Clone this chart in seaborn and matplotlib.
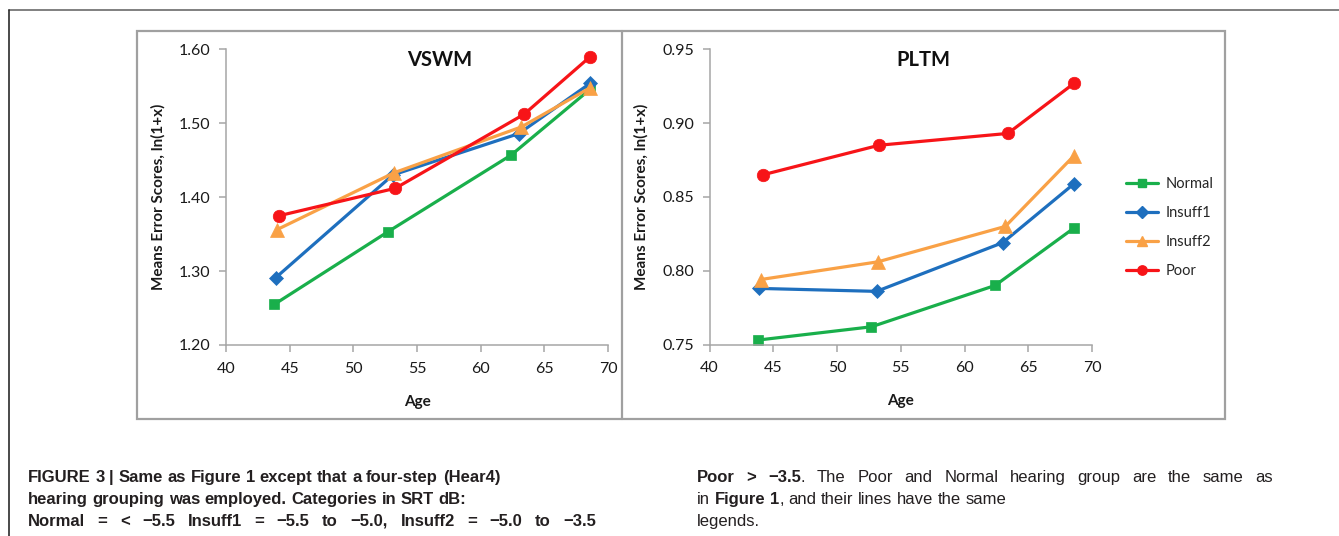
import matplotlib
matplotlib.use("Agg")
import matplotlib.pyplot as plt
from matplotlib.lines import Line2D
from matplotlib.patches import Rectangle
import pandas as pd
import seaborn as sns

# ---- data -------------------------------------------------------------
groups = ["Normal", "Insuff1", "Insuff2", "Poor"]

normal_age = [43.8, 52.7, 62.4, 68.6]
insuff1_age = [43.9, 53.1, 63.0, 68.6]
insuff2_age = [44.0, 53.2, 63.2, 68.6]
poor_age = [44.2, 53.3, 63.4, 68.6]

vswm_normal = [1.255, 1.353, 1.457, 1.546]
vswm_insuff1 = [1.291, 1.430, 1.486, 1.554]
vswm_insuff2 = [1.356, 1.433, 1.495, 1.548]
vswm_poor = [1.375, 1.412, 1.512, 1.590]

pltm_normal = [0.753, 0.762, 0.790, 0.829]
pltm_insuff1 = [0.788, 0.786, 0.819, 0.859]
pltm_insuff2 = [0.794, 0.806, 0.830, 0.878]
pltm_poor = [0.865, 0.885, 0.893, 0.927]

x_ticks = [40, 45, 50, 55, 60, 65, 70]
vswm_ticks = [1.20, 1.30, 1.40, 1.50, 1.60]
pltm_ticks = [0.75, 0.80, 0.85, 0.90, 0.95]

ages = dict(zip(groups, [normal_age, insuff1_age, insuff2_age, poor_age]))
vswm = dict(zip(groups, [vswm_normal, vswm_insuff1, vswm_insuff2, vswm_poor]))
pltm = dict(zip(groups, [pltm_normal, pltm_insuff1, pltm_insuff2, pltm_poor]))


def long_frame(values):
    rows = []
    for g in groups:
        for a, v in zip(ages[g], values[g]):
            rows.append({"Age": a, "Score": v, "Group": g})
    return pd.DataFrame(rows)


df_vswm = long_frame(vswm)
df_pltm = long_frame(pltm)

palette = {"Normal": "#19AF4B", "Insuff1": "#1E6FBE",
           "Insuff2": "#F9A146", "Poor": "#F71418"}
markers = {"Normal": "s", "Insuff1": "D", "Insuff2": "^", "Poor": "o"}
msize = {"Normal": 7.5, "Insuff1": 7.5, "Insuff2": 9.5, "Poor": 9}

# ---- figure -----------------------------------------------------------
sns.set_theme(style="white")
plt.rcParams["font.family"] = ["Lato", "DejaVu Sans"]

W, H = 1339, 536
fig = plt.figure(figsize=(W / 100, H / 100), dpi=100)
fig.patch.set_facecolor("white")


def fx(px):
    return px / W


def fy(py):
    return 1 - py / H


ax1 = fig.add_axes([fx(226), fy(345), fx(608) - fx(226), fy(49.3) - fy(345)])
ax2 = fig.add_axes([fx(709.5), fy(344.5), fx(1092) - fx(709.5), fy(49.3) - fy(344.5)])


def draw_panel(ax, df, ticks, title):
    sns.lineplot(data=df, x="Age", y="Score", hue="Group", hue_order=groups,
                 palette=palette, estimator=None, sort=False, ax=ax,
                 linewidth=2.3, legend=False)
    for line, g in zip(ax.get_lines(), groups):
        line.set_marker(markers[g])
        line.set_markersize(msize[g])
        line.set_markerfacecolor(palette[g])
        line.set_markeredgecolor(palette[g])
        line.set_markeredgewidth(0.5)
    ax.set_xlim(40, 70)
    ax.set_ylim(ticks[0], ticks[-1])
    ax.set_xticks(x_ticks)
    ax.set_yticks(ticks)
    ax.set_yticklabels([f"{t:.2f}" for t in ticks])
    ax.set_facecolor("none")
    for side in ["top", "right"]:
        ax.spines[side].set_visible(False)
    for side in ["left", "bottom"]:
        ax.spines[side].set_color("#A6A6A6")
        ax.spines[side].set_linewidth(1.1)
    ax.tick_params(axis="both", which="major", direction="out", length=5,
                   width=1.1, color="#A6A6A6", labelsize=11.5,
                   labelcolor="#1a1a1a", left=True, bottom=True)
    ax.tick_params(axis="y", pad=6)
    ax.tick_params(axis="x", pad=7)
    ax.set_xlabel("Age", fontsize=11, fontweight="bold", color="#1a1a1a")
    ax.set_ylabel("Means Error Scores, ln(1+x)", fontsize=11, fontweight="bold",
                  color="#1a1a1a")
    ax.xaxis.set_label_coords(0.5, -0.168)
    ax.yaxis.set_label_coords(-0.158, 0.5)
    ax.text(0.56, 0.965, title, transform=ax.transAxes, ha="center",
            va="center", fontsize=14.5, fontweight="bold", color="#111111")


draw_panel(ax1, df_vswm, vswm_ticks, "VSWM")
draw_panel(ax2, df_pltm, pltm_ticks, "PLTM")

# legend for the hearing groups, right of the PLTM panel
handles = [Line2D([0], [0], color=palette[g], lw=2.3, marker=markers[g],
                  markersize=msize[g] * 0.75, markerfacecolor=palette[g],
                  markeredgecolor=palette[g]) for g in groups]
fig.legend(handles, groups, loc="upper left",
           bbox_to_anchor=(fx(1120), fy(171)), frameon=False, fontsize=10.5,
           handlelength=2.2, handletextpad=0.55, labelspacing=1.03,
           borderaxespad=0)

# ---- frame lines --------------------------------------------------------
fig.add_artist(Line2D([fx(9), fx(1339)], [fy(10), fy(10)], color="#6b6b6b",
                      lw=1.2))
fig.add_artist(Line2D([fx(9), fx(9)], [fy(10), fy(536)], color="#2b2b2b",
                      lw=1.2))
fig.add_artist(Rectangle((fx(137), fy(419)), fx(1225) - fx(137),
                         fy(31) - fy(419), fill=False, ec="#A0A0A0", lw=1.6))
fig.add_artist(Line2D([fx(622), fx(622)], [fy(31), fy(419)], color="#A0A0A0",
                      lw=1.6))

# ---- caption ------------------------------------------------------------
cap_font = ["Liberation Sans", "DejaVu Sans"]
cap_size = 12
cap_color = "#231f20"
renderer = fig.canvas.get_renderer()

# each line: (segments, right edge for justified lines or None)
caption_left = [
    ([("FIGURE 3 | Same as Figure 1 except that a four-step (Hear4)", "bold")], None),
    ([("hearing grouping was employed. Categories in SRT dB:", "bold")], None),
    ([("Normal = < \u22125.5 Insuff1 = \u22125.5 to \u22125.0, Insuff2 = \u22125.0 to \u22123.5",
       "bold")], 596),
]
caption_right = [
    ([("Poor > \u22123.5", "bold"),
      (". The Poor and Normal hearing group are the same as", "normal")], 1273),
    ([("in ", "normal"), ("Figure 1", "bold"),
      (", and their lines have the same", "normal")], None),
    ([("legends.", "normal")], None),
]
baselines = [482, 504, 526]


def text_width(s, weight):
    t = fig.text(0, 0, s, family=cap_font, fontsize=cap_size, fontweight=weight)
    w = t.get_window_extent(renderer).width
    t.remove()
    return w


def split_words(segments):
    words = [[]]
    for txt, weight in segments:
        parts = txt.split(" ")
        for i, p in enumerate(parts):
            if i > 0:
                words.append([])
            if p:
                words[-1].append((p, weight))
    return [w for w in words if w]


def draw_line(segments, x0, yb, right):
    words = split_words(segments)
    widths = [sum(text_width(p, wt) for p, wt in wd) for wd in words]
    space = text_width("a a", "normal") - text_width("aa", "normal")
    if right is not None and len(words) > 1:
        space = (right - x0 - sum(widths)) / (len(words) - 1)
    x = x0
    for wd, w in zip(words, widths):
        xx = x
        for p, wt in wd:
            fig.text(fx(xx), fy(yb), p, family=cap_font, fontsize=cap_size,
                     fontweight=wt, color=cap_color, va="baseline", ha="left")
            xx += text_width(p, wt)
        x += w + space


for (segs, right), yb in zip(caption_left, baselines):
    draw_line(segs, 28, yb, right)
for (segs, right), yb in zip(caption_right, baselines):
    draw_line(segs, 697, yb, right)

fig.savefig("out.png", dpi=100, facecolor="white")
